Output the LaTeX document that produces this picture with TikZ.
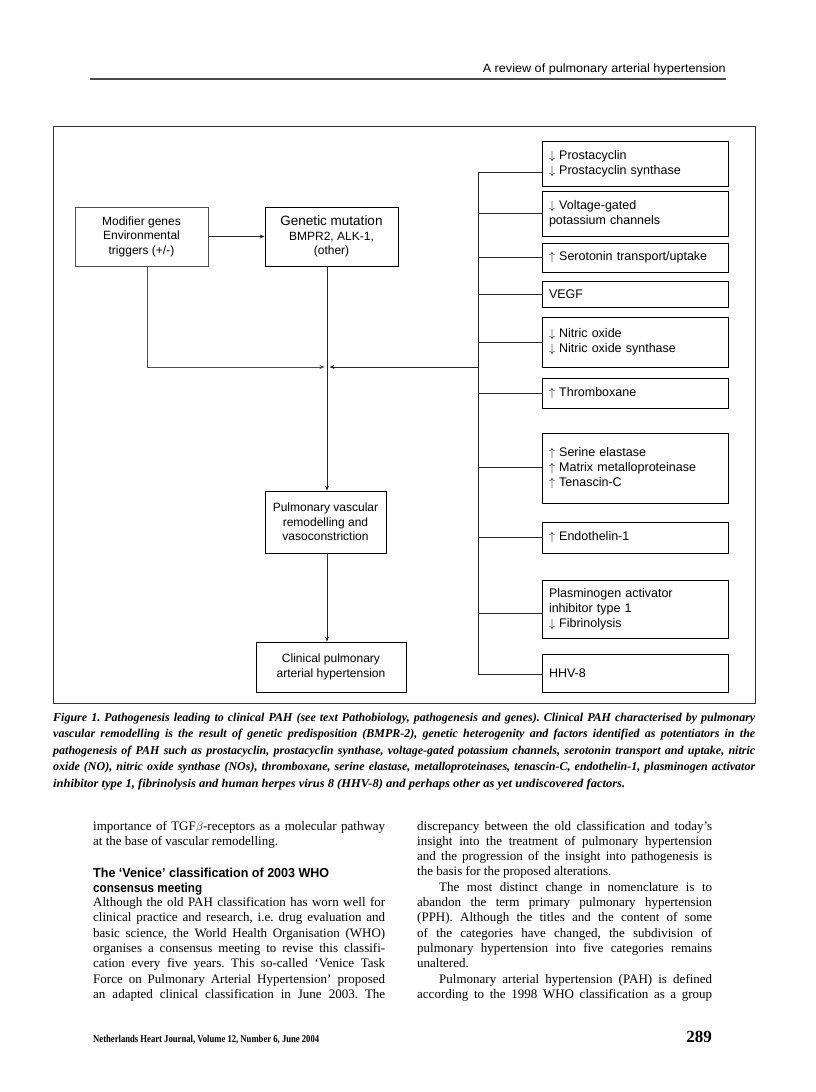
\documentclass[tikz,border=0pt]{standalone}
\usepackage{fontspec}
\usepackage{graphicx}
\setmainfont{Liberation Serif}
\newfontfamily\figsans{Liberation Sans}
\usetikzlibrary{arrows.meta}
\frenchspacing
\newlength\fitlw
% justified line: stretch spaces, or squeeze if too wide
\newcommand\jl[2]{\settowidth\fitlw{#2}\ifdim\fitlw>#1\relax\resizebox{#1}{\height}{#2}\else\makebox[#1][s]{#2}\fi}
% fit to an exact width
\newcommand\fw[2]{\resizebox{#1}{\height}{#2}}
\tikzset{
  fbox/.style={draw=black, line width=0.8pt, font=\figsans\fontsize{12}{14.5}\selectfont, align=center, inner sep=0pt},
  rbox/.style={fbox, font=\figsans\fontsize{12.5}{15}\selectfont, align=left, minimum width=186pt, text width=172pt},
  conn/.style={line width=0.8pt, draw=black!85},
  arr/.style={conn, -{Stealth[length=5pt,width=4pt]}},
  txt/.style={inner sep=0pt, anchor=base west},
  capf/.style={txt, font=\fontsize{12}{14}\selectfont\bfseries\itshape},
  bodyf/.style={txt, font=\fontsize{13}{15}\selectfont},
  headf/.style={txt, font=\figsans\fontsize{13}{15}\selectfont\bfseries},
}
\begin{document}
\frenchspacing
\begin{tikzpicture}[x=1pt,y=-1pt]
\useasboundingbox[fill=white] (0,0) rectangle (816,1092);

% running header
\node[inner sep=0pt, anchor=base east, font=\figsans\fontsize{12}{14}\selectfont] (hdr) at (726,72) {\fw{243pt}{A review of pulmonary arterial hypertension}};
\coordinate (r0) at (90,79);
\coordinate (r1) at (726,79);
\draw[line width=1.5pt, black!70] (r0) -- (r1);

% figure frame
\node[draw=black!80, line width=1pt, minimum width=702pt, minimum height=577pt, inner sep=0pt] (frame) at (404,414.5) {};

% left part of the diagram
\node[fbox, draw=black!70, minimum width=133pt, minimum height=59pt] (mod) at (141.5,236.5) {Modifier genes\\Environmental\\triggers (+/-)};
\node[fbox, minimum width=133pt, minimum height=59pt] (gen) at (331.5,236.5) {{\fontsize{13.5}{15}\selectfont Genetic mutation}\\BMPR2, ALK-1,\\(other)};
\node[fbox, minimum width=121pt, minimum height=62pt] (pulm) at (325.5,522) {Pulmonary vascular\\remodelling and\\vasoconstriction};
\node[fbox, minimum width=150pt, minimum height=50pt] (clin) at (331,667) {Clinical pulmonary\\arterial hypertension};

\coordinate (j) at (327,367);
\coordinate (ml) at (147,266);

\draw[arr] (mod.east) -- (gen.west);
\draw[arr, draw=black!70] (ml) -- (ml |- j) -- ([xshift=-2.5pt]j);
\draw[arr] (gen.south -| j) -- (pulm.north -| j);
\draw[arr] (pulm.south -| j) -- (clin.north -| j);

% right column of factors
\node[rbox, minimum height=45pt] (b1) at (635,163.5) {$\downarrow$ Prostacyclin\\$\downarrow$ Prostacyclin synthase};
\node[rbox, minimum height=45pt] (b2) at (635,213.5) {$\downarrow$ Voltage-gated\\potassium channels};
\node[rbox, minimum height=29pt] (b3) at (635,257.5) {$\uparrow$ Serotonin transport/uptake};
\node[rbox, minimum height=26pt] (b4) at (635,294) {VEGF};
\node[rbox, minimum height=50pt] (b5) at (635,342) {$\downarrow$ Nitric oxide\\$\downarrow$ Nitric oxide synthase};
\node[rbox, minimum height=30pt] (b6) at (635,393) {$\uparrow$ Thromboxane};
\node[rbox, minimum height=70pt] (b7) at (635,468) {$\uparrow$ Serine elastase\\$\uparrow$ Matrix metalloproteinase\\$\uparrow$ Tenascin-C};
\node[rbox, minimum height=31pt] (b8) at (635,537.5) {$\uparrow$ Endothelin-1};
\node[rbox, minimum height=58pt] (b9) at (635,609) {Plasminogen activator\\inhibitor type 1\\$\downarrow$ Fibrinolysis};
\node[rbox, minimum height=38pt] (b10) at (635,673) {HHV-8};

\coordinate (c1) at (478,172);
\coordinate (c2) at (478,213.5);
\coordinate (c3) at (478,257.5);
\coordinate (c4) at (478,294);
\coordinate (c5) at (478,342);
\coordinate (c6) at (478,393);
\coordinate (c7) at (478,467);
\coordinate (c8) at (478,537.5);
\coordinate (c9) at (478,613);
\coordinate (c10) at (478,674);
\coordinate (tj) at (478,367);

\draw[conn] (c1) -- (c10);
\foreach \i in {1,...,10} { \draw[conn] (c\i) -- (c\i -| b\i.west); }
\draw[arr] (tj) -- ([xshift=2.5pt]j);

% caption
\node[capf] (cap1) at (53,721) {\jl{702pt}{Figure 1. Pathogenesis leading to clinical PAH (see text Pathobiology, pathogenesis and genes). Clinical PAH characterised by pulmonary}};
\node[capf] (cap2) at (53,737.5) {\jl{702pt}{vascular remodelling is the result of genetic predisposition (BMPR-2), genetic heterogenity and factors identified as potentiators in the}};
\node[capf] (cap3) at (53,754) {\jl{702pt}{pathogenesis of PAH such as prostacyclin, prostacyclin synthase, voltage-gated potassium channels, serotonin transport and uptake, nitric}};
\node[capf] (cap4) at (53,770.5) {\jl{702pt}{oxide (NO), nitric oxide synthase (NOs), thromboxane, serine elastase, metalloproteinases, tenascin-C, endothelin-1, plasminogen activator}};
\node[capf] (cap5) at (53,787) {\fw{572pt}{inhibitor type 1, fibrinolysis and human herpes virus 8 (HHV-8) and perhaps other as yet undiscovered factors.}};

% left text column
\node[bodyf] (l1) at (93,830) {\jl{292pt}{importance of TGF$\beta$-receptors as a molecular pathway}};
\node[bodyf] (l2) at (93,845.3) {at the base of vascular remodelling.};
\node[headf] (h1) at (93,877.5) {\fw{236pt}{The ‘Venice’ classification of 2003 WHO}};
\node[headf] (h2) at (93,892) {\fw{109pt}{consensus meeting}};
\node[bodyf] (l3) at (93,906.5) {\jl{292pt}{Although the old PAH classification has worn well for}};
\node[bodyf] (l4) at (93,921.8) {\jl{292pt}{clinical practice and research, i.e. drug evaluation and}};
\node[bodyf] (l5) at (93,937.1) {\jl{292pt}{basic science, the World Health Organisation (WHO)}};
\node[bodyf] (l6) at (93,952.4) {\jl{292pt}{organises a consensus meeting to revise this classifi-}};
\node[bodyf] (l7) at (93,967.7) {\jl{292pt}{cation every five years. This so-called ‘Venice Task}};
\node[bodyf] (l8) at (93,983) {\jl{292pt}{Force on Pulmonary Arterial Hypertension’ proposed}};
\node[bodyf] (l9) at (93,998.3) {\jl{292pt}{an adapted clinical classification in June 2003. The}};

% right text column
\node[bodyf] (m1) at (417,830) {\jl{295pt}{discrepancy between the old classification and today’s}};
\node[bodyf] (m2) at (417,845.3) {\jl{295pt}{insight into the treatment of pulmonary hypertension}};
\node[bodyf] (m3) at (417,860.6) {\jl{295pt}{and the progression of the insight into pathogenesis is}};
\node[bodyf] (m4) at (417,875.9) {the basis for the proposed alterations.};
\node[bodyf] (m5) at (439,891.2) {\jl{273pt}{The most distinct change in nomenclature is to}};
\node[bodyf] (m6) at (417,906.5) {\jl{295pt}{abandon the term primary pulmonary hypertension}};
\node[bodyf] (m7) at (417,921.8) {\jl{295pt}{(PPH). Although the titles and the content of some}};
\node[bodyf] (m8) at (417,937.1) {\jl{295pt}{of the categories have changed, the subdivision of}};
\node[bodyf] (m9) at (417,952.4) {\jl{295pt}{pulmonary hypertension into five categories remains}};
\node[bodyf] (m10) at (417,967.7) {unaltered.};
\node[bodyf] (m11) at (439,983) {\jl{273pt}{Pulmonary arterial hypertension (PAH) is defined}};
\node[bodyf] (m12) at (417,998.3) {\jl{295pt}{according to the 1998 WHO classification as a group}};

% footer
\node[txt, font=\fontsize{10.5}{12}\selectfont\bfseries] (foot) at (93,1042) {\fw{226pt}{Netherlands Heart Journal, Volume 12, Number 6, June 2004}};
\node[inner sep=0pt, anchor=base east, font=\fontsize{17}{19}\selectfont\bfseries] (pg) at (712,1042) {289};
\end{tikzpicture}
\end{document}
